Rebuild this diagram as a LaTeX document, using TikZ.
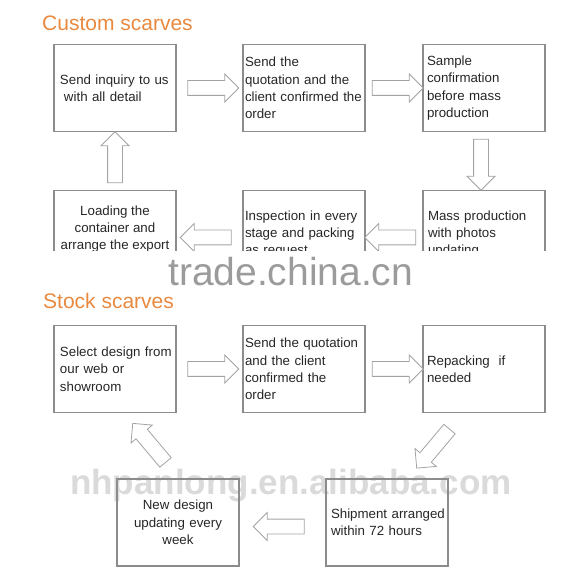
\documentclass[tikz,border=0pt]{standalone}
\usepackage{fontspec}
\setmainfont{Liberation Sans}
\usetikzlibrary{positioning,shapes.arrows}
\definecolor{boxline}{HTML}{8C8C8C}
\definecolor{arrline}{HTML}{A3A3A3}
\definecolor{heading}{HTML}{E8893F}
\definecolor{ink}{HTML}{262626}
\definecolor{markdark}{HTML}{9B9B9B}
\definecolor{marklight}{HTML}{DADADA}

\begin{document}
\begin{tikzpicture}[every node/.style={font=\fontsize{13.3}{17.3}\selectfont,text=ink},
box/.style={draw=boxline,line width=1.1pt,minimum width=122pt,minimum height=87pt,
  text width=118pt,inner xsep=2pt,outer sep=0pt,align=left},
barrow/.style={single arrow,draw=arrline,fill=white,line width=0.8pt,minimum height=51pt,
  single arrow head extend=6.5pt,single arrow tip angle=90,inner xsep=0pt,inner ysep=7pt},
title/.style={font=\fontsize{21}{25}\selectfont,text=heading,anchor=base west,inner sep=0pt},
wmark/.style={anchor=base west,inner sep=0pt}]
\useasboundingbox (0,0) rectangle (579pt,-572pt);
% watermark behind the last row
\node[wmark,font=\fontsize{35}{40}\selectfont\bfseries,text=marklight] (wm2) at (70pt,-494pt) {nhpanlong.en.alibaba.com};
% custom scarves
\node[title] (t1) at (42pt,-31pt) {Custom scarves};
\node[box] (b1) at (115pt,-88pt) {\hspace*{4pt}Send inquiry to us\\\hspace*{8pt}with all detail};
\node[box,right=67pt of b1] (b2) {Send the\\quotation and the\\client confirmed the\\order};
\node[box,right=58pt of b2] (b3) {\hspace*{2pt}Sample\\\hspace*{2pt}confirmation\\\hspace*{2pt}before mass\\\hspace*{2pt}production};
\node[box,below=59pt of b3] (b4) {\hspace*{3pt}Mass production\\\hspace*{3pt}with photos\\\hspace*{3pt}updating};
\node[box,left=58pt of b4] (b5) {Inspection in every\\stage and packing\\as request};
\node[box,left=67pt of b5] (b6) {};
\node[align=center,inner sep=0pt] (b6t) at ([yshift=5pt]b6.center) {Loading the\\container and\\arrange the export};
\path (b1) -- node[barrow] (a12) {} (b2);
\path (b2) -- node[barrow] (a23) {} (b3);
\path ([xshift=-3pt]b3.south) -- node[barrow,rotate=-90] (a34) {} ([xshift=-3pt]b4.north);
\path ([yshift=-3.5pt]b4.west) -- node[barrow,rotate=180] (a45) {} ([yshift=-3.5pt]b5.east);
\path ([yshift=-3.5pt]b5.west) -- node[barrow,rotate=180] (a56) {} ([yshift=-3.5pt]b6.east);
\path (b6.north) -- node[barrow,rotate=90] (a61) {} (b1.south);
% cut band with the second watermark
\fill[white] (0,-251pt) rectangle (579pt,-292pt);
\node[wmark,font=\fontsize{39}{44}\selectfont,text=markdark] (wm1) at (168pt,-286pt) {trade.china.cn};
% stock scarves
\node[title] (t2) at (43pt,-309pt) {Stock scarves};
\node[box,below=48pt of b6] (b7) {\hspace*{4pt}Select design from\\\hspace*{4pt}our web or\\\hspace*{4pt}showroom};
\node[box,right=67pt of b7] (b8) {Send the quotation\\and the client\\confirmed the\\order};
\node[box,right=58pt of b8] (b9) {\hspace*{2pt}Repacking\ \ if\\\hspace*{2pt}needed};
\node[box,align=center] (b10) at (178pt,-522.5pt) {New design\\updating every\\week};
\node[box,right=87pt of b10] (b11) {\hspace*{3pt}Shipment arranged\\\hspace*{3pt}within 72 hours};
\path (b7) -- node[barrow] (a78) {} (b8);
\path (b8) -- node[barrow] (a89) {} (b9);
\path (b9) -- node[barrow,rotate=-130] (a911) {} (b11);
\path ([yshift=-4pt]b11.west) -- node[barrow,rotate=180] (a1110) {} ([yshift=-4pt]b10.east);
\path ([xshift=5pt]b10.center) -- node[barrow,rotate=130] (a107) {} ([xshift=5pt]b7.center);
\end{tikzpicture}
\end{document}
